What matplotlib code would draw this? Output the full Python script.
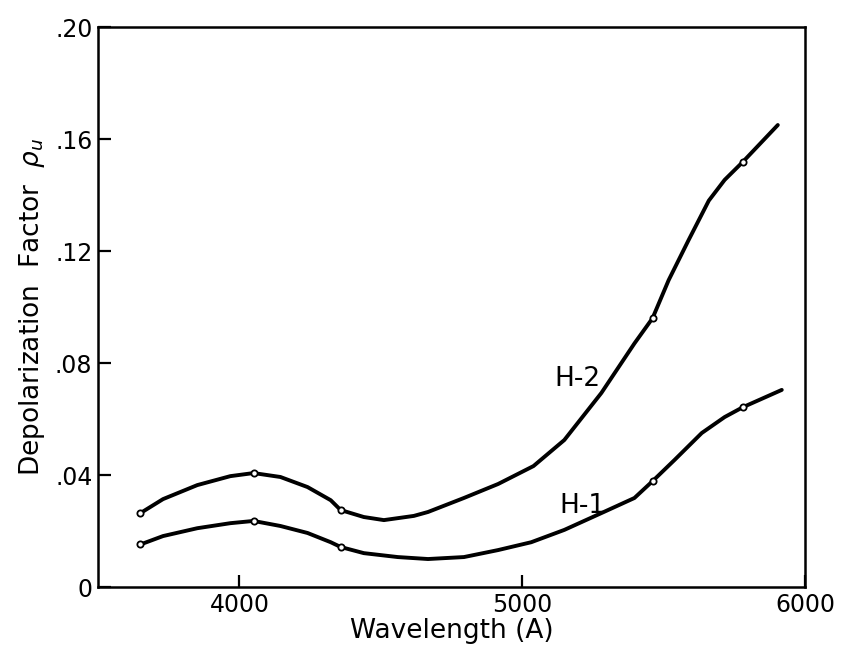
import numpy as np
import matplotlib
matplotlib.use("Agg")
import matplotlib.pyplot as plt

# ---- curves (wavelength in A, depolarization factor) ----
h2_wl = [3650, 3730, 3851, 3968, 4050, 4145, 4241, 4323, 4358, 4440, 4511, 4617,
         4667, 4794, 4915, 5040, 5149, 5280, 5397, 5461, 5518, 5589, 5660, 5716,
         5780, 5904]
h2_rho = [0.0264, 0.0314, 0.0364, 0.0396, 0.0407, 0.0393, 0.0357, 0.0310, 0.0275,
          0.0250, 0.0239, 0.0254, 0.0268, 0.0318, 0.0368, 0.0432, 0.0525, 0.0693,
          0.0870, 0.0960, 0.1096, 0.1240, 0.1380, 0.1454, 0.1518, 0.1650]

h1_wl = [3650, 3730, 3851, 3968, 4050, 4145, 4241, 4323, 4358, 4440, 4560, 4667,
         4794, 4915, 5032, 5149, 5280, 5397, 5461, 5539, 5635, 5716, 5780, 5918]
h1_rho = [0.0152, 0.0182, 0.0210, 0.0228, 0.0236, 0.0218, 0.0193, 0.0160, 0.0143,
          0.0121, 0.0107, 0.0100, 0.0107, 0.0132, 0.0160, 0.0204, 0.0264, 0.0318,
          0.0378, 0.0454, 0.0550, 0.0607, 0.0642, 0.0704]

# measured points (mercury lines)
pt_wl = [3650, 4050, 4358, 5461, 5780]
h2_pts = [0.0264, 0.0407, 0.0275, 0.0960, 0.1518]
h1_pts = [0.0152, 0.0236, 0.0143, 0.0378, 0.0642]

yticks = [0, 0.04, 0.08, 0.12, 0.16, 0.20]
ytick_labels = ["0", ".04", ".08", ".12", ".16", ".20"]
xticks = [4000, 5000, 6000]

fig = plt.figure(figsize=(8.42, 6.48), dpi=100)
ax = fig.add_axes([0.1164, 0.0941, 0.956 - 0.1164, 0.9583 - 0.0941])

for wl, rho, pts in [(h2_wl, h2_rho, h2_pts), (h1_wl, h1_rho, h1_pts)]:
    ax.plot(wl, rho, color="black", lw=2.8, solid_capstyle="round", solid_joinstyle="round")
    ax.plot(pt_wl, pts, "o", ms=4.5, mfc="white", mec="black", mew=1.3)

ax.text(5195, 0.0743, "H-2", fontsize=19, ha="center", va="center")
ax.text(5213, 0.029, "H-1", fontsize=19, ha="center", va="center")

ax.set_xlim(3500, 6000)
ax.set_ylim(0, 0.20)
ax.set_xticks(xticks)
ax.set_xticklabels([str(t) for t in xticks])
ax.set_yticks(yticks)
ax.set_yticklabels(ytick_labels)
ax.tick_params(direction="in", length=9, width=1.6, labelsize=17, pad=4)
for s in ax.spines.values():
    s.set_linewidth(1.8)

ax.set_xlabel("Wavelength (A)", fontsize=19, labelpad=1)
ax.set_ylabel(r"Depolarization  Factor  $\rho_u$", fontsize=19, labelpad=6)

fig.savefig("out.png", dpi=100)
